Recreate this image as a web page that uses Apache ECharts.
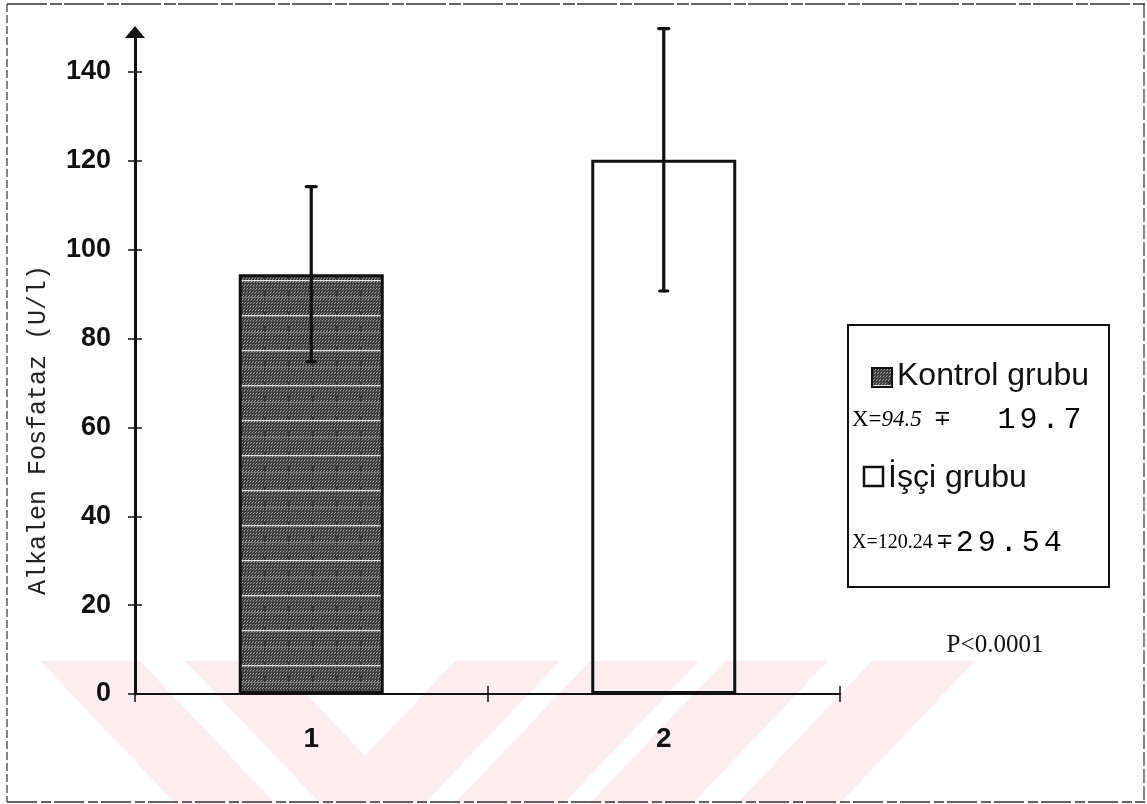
<!DOCTYPE html>
<html>
<head>
<meta charset="utf-8">
<title>Alkalen Fosfataz</title>
<script src="https://cdn.jsdelivr.net/npm/echarts@6/dist/echarts.min.js"></script>
<style>
  html, body { margin: 0; padding: 0; background: #fff; }
  #chart { width: 1147px; height: 804px; }
</style>
</head>
<body>
<div id="chart"></div>
<script>
// Groups and their summary statistics (mean ± SD, U/l)
const categories = ['1', '2'];
const groupNames = ['Kontrol grubu', 'İşçi grubu'];
const means = [94.5, 120.24];
const sds = [19.7, 29.54];
const yTicks = [0, 20, 40, 60, 80, 100, 120, 140];
const yAxisTitle = 'Alkalen Fosfataz (U/l)';
const pValueText = 'P<0.0001';

// Dark speckled fill used for the control group bar
function makeTexture() {
  const c = document.createElement('canvas');
  c.width = 24; c.height = 35;
  const g = c.getContext('2d');
  g.fillStyle = '#383838';
  g.fillRect(0, 0, 24, 35);
  g.strokeStyle = 'rgba(200,200,200,0.8)';
  g.lineWidth = 1;
  for (let y = 2; y < 35; y += 3.5) {
    for (let x = (y * 0.7) % 3; x < 24; x += 3) {
      g.beginPath();
      g.moveTo(x, y + 1.2);
      g.lineTo(x + 1.8, y - 1.2);
      g.stroke();
    }
  }
  g.fillStyle = 'rgba(255,255,255,0.85)';
  g.fillRect(0, 0, 24, 1.2);
  g.fillStyle = 'rgba(255,255,255,0.3)';
  g.fillRect(0, 17, 24, 1);
  return c;
}
const texture = { image: makeTexture(), repeat: 'repeat' };

// Faint diagonal watermark bands along the bottom of the page
function bandPolys() {
  const top = 661, bot = 804, k = 0.95, h = bot - top;
  const back = [[40, 140], [185, 275]];
  const fwd = [[455, 560], [590, 699], [725, 828], [872, 975]];
  const polys = [];
  back.forEach(([a, b]) => polys.push([[a, top], [b, top], [b + k * h, bot], [a + k * h, bot]]));
  fwd.forEach(([a, b]) => polys.push([[a, top], [b, top], [b - k * h, bot], [a - k * h, bot]]));
  return polys.map(p => ({
    type: 'polygon', z: -10, silent: true,
    shape: { points: p },
    style: { fill: '#fdedf0' }
  }));
}

// Typewriter-style number: every character sits in a fixed-width cell
function typed(str) {
  return str.split('').map(ch => '{t|' + ch + '}').join('');
}

const statRich = {
  x: { fontFamily: 'Liberation Serif', fontSize: 23, color: '#111' },
  ni: { fontFamily: 'Liberation Serif', fontSize: 23, fontStyle: 'italic', color: '#111' },
  x2: { fontFamily: 'Liberation Serif', fontSize: 20, color: '#111' },
  nu: { fontFamily: 'Liberation Serif', fontSize: 20, color: '#111' },
  pm: { fontFamily: 'DejaVu Sans', fontSize: 21, color: '#111' },
  sp: { fontSize: 20, width: 12 },
  sp2: { fontSize: 20, width: 44 },
  t: { fontFamily: 'Liberation Mono', fontSize: 30, color: '#222', width: 22, align: 'center' }
};

const chart = echarts.init(document.getElementById('chart'), null, { renderer: 'canvas' });

const option = {
  backgroundColor: '#fff',
  animation: false,
  grid: { left: 135, right: 307, top: 32, bottom: 110 },
  xAxis: [
    {
      type: 'category',
      data: categories,
      boundaryGap: true,
      axisLine: { lineStyle: { color: '#111', width: 2 } },
      axisTick: { show: true, length: 8, lineStyle: { color: '#111', width: 1.5 } },
      axisLabel: {
        margin: 31, fontSize: 28, fontWeight: 'bold',
        fontFamily: 'Liberation Sans', color: '#111'
      },
      splitLine: { show: false }
    },
    {
      type: 'category',
      data: categories,
      position: 'bottom',
      boundaryGap: true,
      axisLine: { show: false },
      axisTick: { show: true, inside: true, length: 8, lineStyle: { color: '#111', width: 1.5 } },
      axisLabel: { show: false },
      splitLine: { show: false }
    }
  ],
  yAxis: [
    {
      type: 'value',
      min: 0, max: 149, interval: 20,
      axisLine: {
        show: true,
        lineStyle: { color: '#111', width: 3 },
        symbol: ['none', 'triangle'],
        symbolSize: [20, 12]
      },
      axisTick: { show: true, length: 7, customValues: yTicks, lineStyle: { color: '#111', width: 1.5 } },
      axisLabel: {
        customValues: yTicks,
        margin: 24, fontSize: 27, fontWeight: 'bold',
        fontFamily: 'Liberation Sans', color: '#111'
      },
      splitLine: { show: false }
    },
    {
      type: 'value',
      position: 'left',
      min: 0, max: 149, interval: 20,
      axisLine: { show: false },
      axisTick: { show: true, inside: true, length: 7, customValues: yTicks, lineStyle: { color: '#111', width: 1.5 } },
      axisLabel: { show: false },
      splitLine: { show: false }
    }
  ],
  series: [
    {
      name: 'Ortalama',
      type: 'bar',
      barWidth: 145,
      z: 3,
      data: means.map((v, i) => ({
        value: v,
        itemStyle: {
          color: i === 0 ? texture : 'rgba(255,255,255,0)',
          borderColor: '#111',
          borderWidth: 3
        }
      }))
    },
    {
      name: 'SD',
      type: 'custom',
      z: 5,
      data: means.map((m, i) => [i, m - sds[i], m + sds[i]]),
      renderItem: function (params, api) {
        const x = api.value(0);
        const lo = api.coord([x, api.value(1)]);
        const hi = api.coord([x, api.value(2)]);
        const cap = 5;
        const st = { stroke: '#111', lineWidth: 3.2, lineCap: 'round' };
        return {
          type: 'group',
          children: [
            { type: 'line', shape: { x1: hi[0], y1: hi[1], x2: lo[0], y2: lo[1] }, style: st },
            { type: 'line', shape: { x1: hi[0] - cap, y1: hi[1], x2: hi[0] + cap, y2: hi[1] }, style: st },
            { type: 'line', shape: { x1: lo[0] - cap + 1, y1: lo[1], x2: lo[0] + cap - 1, y2: lo[1] }, style: st }
          ]
        };
      }
    }
  ],
  graphic: [
    ...bandPolys(),
    // page frame
    { type: 'line', z: 1, shape: { x1: 7, y1: 4, x2: 1145, y2: 4 }, style: { stroke: '#333', lineWidth: 1.5, lineDash: [40, 3, 12, 2] } },
    { type: 'line', z: 1, shape: { x1: 7, y1: 4, x2: 7, y2: 802 }, style: { stroke: '#333', lineWidth: 1.2, lineDash: [8, 3] } },
    { type: 'line', z: 1, shape: { x1: 1144, y1: 4, x2: 1144, y2: 802 }, style: { stroke: '#333', lineWidth: 1.2, lineDash: [14, 3] } },
    { type: 'line', z: 1, shape: { x1: 7, y1: 802, x2: 1145, y2: 802 }, style: { stroke: '#333', lineWidth: 1.5, lineDash: [30, 4, 10, 3] } },
    // y-axis title
    {
      type: 'text', z: 10, x: 38, y: 430, rotation: Math.PI / 2,
      style: {
        text: yAxisTitle, fontFamily: 'Liberation Mono', fontSize: 25,
        fill: '#222', align: 'center', verticalAlign: 'middle'
      }
    },
    // legend box
    {
      type: 'rect', z: 10,
      shape: { x: 848, y: 325, width: 261, height: 262 },
      style: { fill: '#fff', stroke: '#111', lineWidth: 2 }
    },
    {
      type: 'rect', z: 11,
      shape: { x: 872, y: 368, width: 20, height: 19 },
      style: { fill: texture, stroke: '#111', lineWidth: 2 }
    },
    {
      type: 'text', z: 11, x: 897, y: 376,
      style: { text: groupNames[0], fontFamily: 'Liberation Sans', fontSize: 32, fill: '#111', verticalAlign: 'middle' }
    },
    {
      type: 'text', z: 11, x: 852, y: 420,
      style: {
        text: '{x|X=}{ni|' + means[0] + '}{sp| }{pm|∓}{sp2| }' + typed(String(sds[0])),
        rich: statRich, verticalAlign: 'middle'
      }
    },
    {
      type: 'rect', z: 11,
      shape: { x: 864, y: 467, width: 19, height: 19 },
      style: { fill: '#fff', stroke: '#111', lineWidth: 2.5 }
    },
    {
      type: 'text', z: 11, x: 888, y: 478,
      style: { text: groupNames[1], fontFamily: 'Liberation Sans', fontSize: 32, fill: '#111', verticalAlign: 'middle' }
    },
    {
      type: 'text', z: 11, x: 852, y: 543,
      style: {
        text: '{x2|X=}{nu|' + means[1] + '} {pm|∓}' + typed(String(sds[1])),
        rich: statRich, verticalAlign: 'middle'
      }
    },
    // significance note
    {
      type: 'text', z: 11, x: 995, y: 645,
      style: { text: pValueText, fontFamily: 'Liberation Serif', fontSize: 25, fill: '#111', align: 'center', verticalAlign: 'middle' }
    }
  ]
};

chart.setOption(option);
</script>
</body>
</html>
